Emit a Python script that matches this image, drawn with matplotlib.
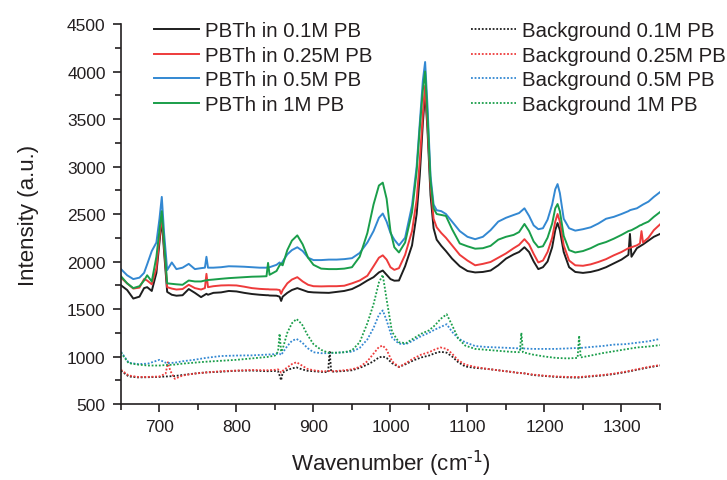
import numpy as np
import matplotlib.pyplot as plt
from matplotlib.ticker import MultipleLocator

plt.rcParams['font.family'] = ['Liberation Sans', 'DejaVu Sans']

# Raman spectra of PBTh films, wavenumber in cm-1
wn = [650, 658, 666, 674, 680, 684, 690, 696, 700, 703, 706, 710, 716, 722, 730, 738, 746, 754, 759, 761,
      763, 770, 780, 790, 800, 810, 820, 830, 839, 841, 843, 852, 856, 858, 860, 866, 872, 879, 886, 893,
      900, 910, 920, 930, 940, 950, 960, 970, 978, 985, 990, 995, 1000, 1005, 1011, 1019, 1028, 1034, 1038, 1042,
      1045, 1048, 1052, 1056, 1060, 1066, 1072, 1080, 1090, 1100, 1110, 1120, 1130, 1140, 1150, 1160, 1167, 1174, 1180, 1186,
      1192, 1198, 1204, 1210, 1214, 1217, 1220, 1225, 1232, 1240, 1250, 1260, 1270, 1280, 1290, 1300, 1309, 1311, 1313, 1320,
      1324, 1326, 1328, 1335, 1342, 1350]

pbth_01 = [1750, 1700, 1610, 1630, 1720, 1730, 1690, 1880, 2200, 2450, 2100, 1680, 1650, 1640, 1645, 1710, 1670, 1625, 1650, 1660,
           1650, 1670, 1675, 1690, 1685, 1670, 1658, 1650, 1645, 1645, 1642, 1640, 1630, 1585, 1630, 1670, 1700, 1720, 1700, 1680,
           1675, 1672, 1670, 1680, 1690, 1710, 1750, 1800, 1835, 1885, 1905, 1860, 1815, 1798, 1800, 1950, 2170, 2500, 2900, 3450,
           3780, 3400, 2700, 2350, 2230, 2165, 2110, 2030, 1950, 1900, 1885, 1890, 1905, 1960, 2030, 2075, 2100, 2150, 2100, 2000,
           1920, 1940, 2000, 2150, 2330, 2405, 2330, 2100, 1940, 1890, 1880, 1890, 1910, 1940, 1980, 2020, 2070, 2290, 2050, 2140,
           2160, 2170, 2180, 2220, 2260, 2290]
pbth_025 = [1830, 1770, 1715, 1725, 1815, 1800, 1760, 1930, 2250, 2490, 2150, 1730, 1715, 1705, 1710, 1755, 1720, 1705, 1720, 1870,
            1730, 1740, 1748, 1750, 1748, 1735, 1720, 1712, 1708, 1708, 1706, 1705, 1700, 1660, 1700, 1770, 1810, 1835, 1790, 1755,
            1740, 1738, 1740, 1740, 1745, 1770, 1800, 1850, 1950, 2040, 2065, 2020, 1940, 1912, 1930, 2070, 2320, 2650, 3050, 3550,
            3850, 3450, 2800, 2450, 2360, 2300, 2250, 2170, 2070, 2010, 1960, 1975, 1995, 2040, 2085, 2140, 2175, 2235, 2180, 2080,
            1990, 2010, 2100, 2250, 2420, 2500, 2420, 2170, 2010, 1960, 1955, 1970, 1995, 2025, 2065, 2100, 2140, 2145, 2150, 2170,
            2190, 2320, 2200, 2250, 2330, 2390]
pbth_05 = [1920, 1855, 1815, 1830, 1880, 1970, 2110, 2200, 2450, 2680, 2300, 1910, 1990, 1920, 1935, 1975, 1920, 1930, 1935, 2050,
           1935, 1935, 1940, 1950, 1948, 1945, 1940, 1935, 1935, 1940, 1940, 1965, 1990, 1965, 2000, 2075, 2120, 2150, 2110, 2040,
           2015, 2015, 2020, 2020, 2025, 2035, 2090, 2200, 2320, 2460, 2505, 2420, 2300, 2230, 2170, 2250, 2590, 3000, 3450, 3900,
           4100, 3650, 2900, 2600, 2540, 2530, 2500, 2420, 2320, 2260, 2235, 2260, 2330, 2420, 2460, 2490, 2510, 2560, 2480, 2380,
           2340, 2350, 2440, 2600, 2760, 2815, 2720, 2450, 2350, 2325, 2340, 2360, 2400, 2450, 2470, 2500, 2530, 2540, 2545, 2560,
           2580, 2590, 2600, 2630, 2680, 2730]
pbth_1 = [1845, 1770, 1720, 1740, 1800, 1855, 1790, 2050, 2330, 2530, 2200, 1770, 1765, 1760, 1755, 1800, 1790, 1790, 1800, 1800,
          1805, 1810, 1818, 1825, 1830, 1835, 1840, 1842, 1845, 1985, 1860, 1900, 1960, 1980, 1960, 2120, 2220, 2275, 2180, 2040,
          1965, 1925, 1920, 1920, 1925, 1940, 2050, 2300, 2600, 2800, 2830, 2660, 2320, 2150, 2095, 2200, 2520, 2950, 3400, 3800,
          4000, 3550, 2850, 2560, 2500, 2490, 2480, 2340, 2190, 2160, 2135, 2140, 2165, 2230, 2260, 2280, 2310, 2395, 2320, 2210,
          2150, 2160, 2250, 2400, 2560, 2605, 2530, 2270, 2120, 2095, 2110, 2140, 2180, 2205, 2240, 2280, 2320, 2325, 2330, 2360,
          2380, 2385, 2395, 2420, 2470, 2520]

# background (electrolyte only) spectra
wn_bg = [650, 660, 672, 685, 700, 708, 711, 714, 720, 730, 745, 760, 780, 800, 820, 840, 850, 854, 856, 858,
         860, 866, 872, 878, 885, 892, 900, 910, 919, 921, 923, 930, 940, 950, 960, 970, 978, 985, 990, 995,
         1002, 1011, 1020, 1030, 1040, 1050, 1058, 1065, 1073, 1080, 1088, 1097, 1110, 1125, 1140, 1155, 1168, 1170, 1172, 1185,
         1200, 1215, 1230, 1243, 1245, 1247, 1260, 1275, 1290, 1305, 1320, 1335, 1350]

bg_01 = [850, 790, 780, 782, 785, 790, 790, 792, 795, 805, 820, 832, 840, 850, 852, 845, 848, 845, 800, 750,
         830, 858, 875, 885, 865, 850, 845, 838, 835, 1060, 840, 842, 848, 855, 880, 915, 950, 990, 1000, 985,
         930, 890, 920, 960, 990, 1010, 1035, 1050, 1040, 1000, 940, 895, 880, 870, 855, 840, 825, 825, 825, 805,
         795, 785, 780, 778, 778, 780, 790, 800, 815, 835, 860, 885, 905]
bg_025 = [860, 800, 785, 785, 790, 820, 940, 850, 765, 800, 820, 832, 845, 852, 858, 855, 860, 865, 850, 830,
          850, 885, 920, 940, 905, 870, 855, 845, 845, 848, 845, 848, 855, 865, 890, 950, 1030, 1100, 1115, 1070,
          950, 890, 930, 980, 1020, 1045, 1075, 1095, 1080, 1030, 960, 915, 890, 870, 855, 840, 825, 825, 825, 810,
          798, 790, 785, 785, 785, 785, 795, 805, 820, 840, 865, 890, 910]
bg_05 = [1050, 935, 920, 925, 965, 935, 930, 932, 935, 950, 965, 985, 1005, 1010, 1012, 1020, 1025, 1030, 1030, 1015,
         1040, 1110, 1165, 1185, 1150, 1090, 1045, 1035, 1035, 1038, 1037, 1040, 1045, 1050, 1090, 1180, 1300, 1440, 1485, 1380,
         1200, 1135, 1130, 1170, 1215, 1250, 1285, 1310, 1340, 1260, 1190, 1150, 1110, 1100, 1095, 1090, 1085, 1085, 1085, 1080,
         1080, 1080, 1085, 1090, 1090, 1090, 1100, 1110, 1125, 1130, 1145, 1160, 1185]
bg_1 = [1040, 930, 915, 905, 905, 910, 912, 912, 915, 925, 935, 945, 955, 965, 980, 995, 1010, 1050, 1240, 1050,
        1080, 1250, 1350, 1395, 1340, 1230, 1130, 1070, 1040, 1040, 1040, 1040, 1045, 1065, 1150, 1350, 1550, 1780, 1860, 1600,
        1260, 1150, 1140, 1190, 1240, 1275, 1330, 1395, 1445, 1330, 1190, 1115, 1080, 1070, 1060, 1050, 1045, 1250, 1045, 1020,
        1000, 985, 980, 985, 1220, 990, 1010, 1035, 1055, 1075, 1095, 1105, 1120]

labels = ['PBTh in 0.1M PB', 'PBTh in 0.25M PB', 'PBTh in 0.5M PB', 'PBTh in 1M PB']
bg_labels = ['Background 0.1M PB', 'Background 0.25M PB', 'Background 0.5M PB', 'Background 1M PB']
colors = ['#1e1e1e', '#ee3b3b', '#3388d2', '#1a9e4a']
ink = '#231f20'

fig = plt.figure(figsize=(7.27, 4.81), dpi=100)
ax = fig.add_axes([0.1664, 0.158, 0.7414, 0.79])

solid = []
for y, lab, c in zip([pbth_01, pbth_025, pbth_05, pbth_1], labels, colors):
    ln, = ax.plot(wn, y, color=c, lw=1.4, label=lab)
    solid.append(ln)

dotted = []
for y, lab, c in zip([bg_01, bg_025, bg_05, bg_1], bg_labels, colors):
    ln, = ax.plot(wn_bg, y, color=c, lw=1.3, ls=(0, (1, 1)), label=lab)
    dotted.append(ln)

ax.set_xlim(650, 1350)
ax.set_ylim(500, 4500)
ax.xaxis.set_major_locator(MultipleLocator(100))
ax.xaxis.set_minor_locator(MultipleLocator(50))
ax.yaxis.set_major_locator(MultipleLocator(500))
ax.yaxis.set_minor_locator(MultipleLocator(250))
ax.spines['top'].set_visible(False)
ax.spines['right'].set_visible(False)
for s in ['left', 'bottom']:
    ax.spines[s].set_color(ink)
    ax.spines[s].set_linewidth(1.2)
ax.tick_params(which='major', direction='out', length=6, width=1.2, colors=ink, labelsize=12.5, pad=5)
ax.tick_params(which='minor', direction='out', length=4, width=1.2, colors=ink)
for t in ax.get_xticklabels() + ax.get_yticklabels():
    t.set_color(ink)

ax.set_xlabel('Wavenumber (cm$^{\u20101}$)', fontsize=16, color=ink, labelpad=10)
ax.set_ylabel('Intensity (a.u.)', fontsize=16, color=ink, labelpad=20)

leg_kw = dict(loc='upper left', frameon=False, fontsize=14.7, handlelength=2.2,
              handletextpad=0.3, labelspacing=0.27, borderaxespad=0)
leg1 = ax.legend(handles=solid, bbox_to_anchor=(0.046, 1.029), **leg_kw)
for t in leg1.get_texts():
    t.set_color(ink)
ax.add_artist(leg1)
leg2 = ax.legend(handles=dotted, bbox_to_anchor=(0.635, 1.029), **leg_kw)
for t in leg2.get_texts():
    t.set_color(ink)

fig.savefig('out.png', dpi=100)
